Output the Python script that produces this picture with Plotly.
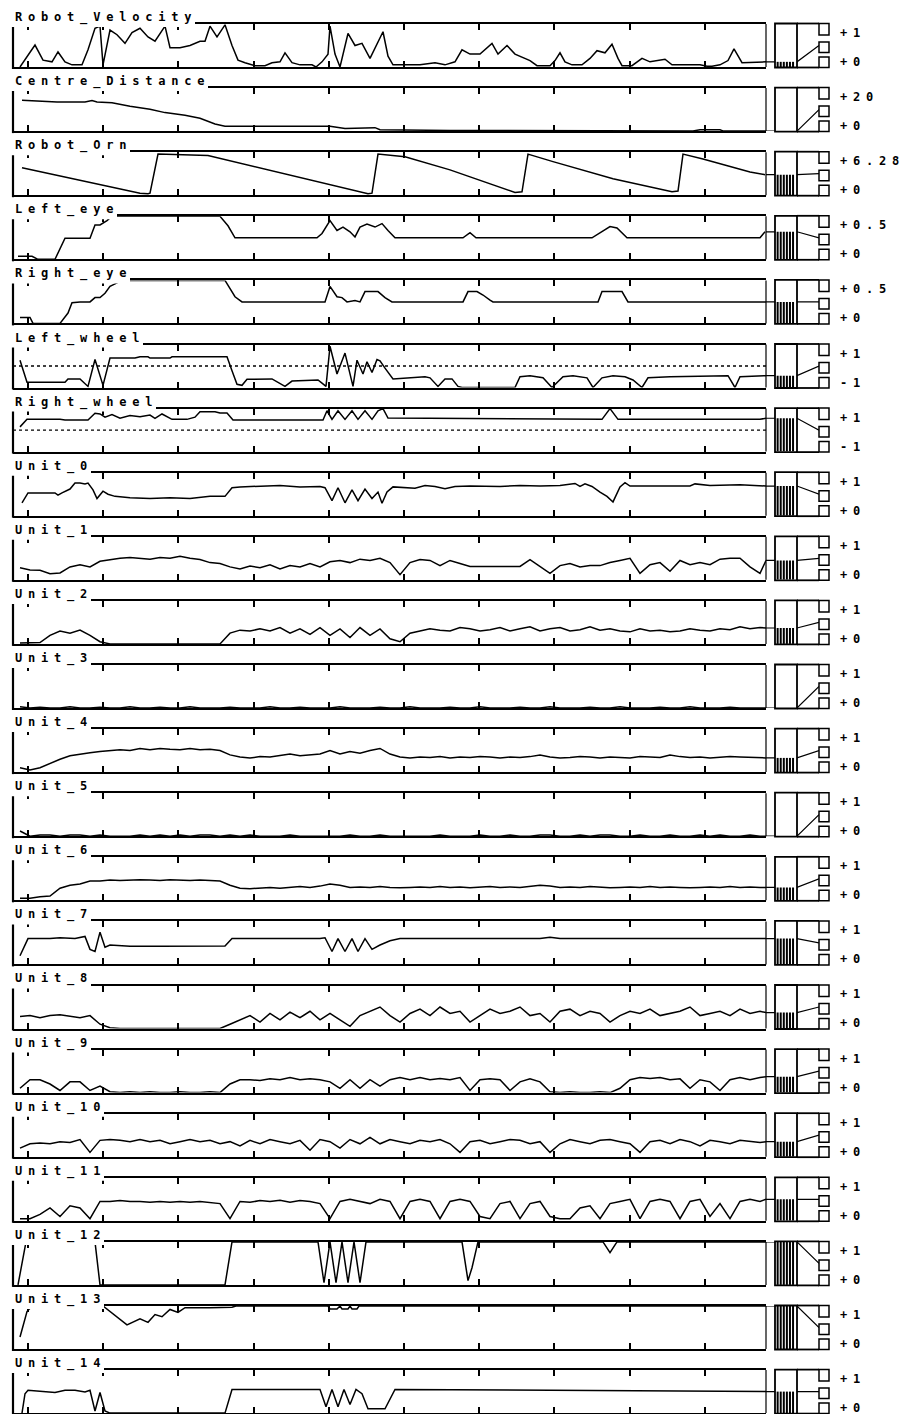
import plotly.graph_objects as go

W, H = 904, 1414

# ---------------- data (time steps t, values) ----------------
VEL_T = [7,22,30,39,45,52,59,69,75,82,87,90,97,104,112,119,127,135,142,149,152,157,167,177,187,192,197,204,212,219,
         225,232,242,252,259,267,272,279,287,299,303,309,315,317,322,327,335,342,349,357,370,375,380,407,422,432,442,449,457,467,
         474,479,485,494,502,517,524,537,542,547,552,559,569,577,584,592,599,605,609,619,629,637,652,659,687,694,699,707,715,721,729,753]
VEL_V = [0,.51,.16,.12,.35,.12,.05,.05,.4,.9,.95,.05,.86,.75,.55,.8,.9,.7,.6,.85,.95,.45,.45,.5,.6,.6,.95,.7,.98,.5,
         .16,.1,.03,.03,.1,.12,.33,.1,.05,.05,0,.12,.3,.95,.3,0,.78,.5,.55,.2,.82,.25,.05,.05,.1,.05,.12,.4,.3,.3,
         .45,.55,.3,.5,.3,.15,.03,.03,.15,.33,.12,.05,.05,.2,.38,.33,.53,.2,.03,.03,.2,.12,.18,.05,.05,.02,.02,.05,.15,.42,.1,.12]

DIST_T = [9,44,72,79,84,99,117,137,152,172,187,202,212,317,332,362,367,437,587,680,687,707,710,753]
DIST_V = [14.4,13.5,13.5,14.2,13.5,13.2,11.6,10.2,8.6,7.4,6.0,3.3,2.3,2.3,1.2,1.6,0.6,0.3,0.2,0.1,0.6,0.6,0.1,0.0]

ORN_T = [9,127,135,137,145,195,355,359,365,392,437,502,509,515,540,600,659,665,670,690,737,752]
ORN_V = [4.0,0.3,0.2,0.3,6.0,5.8,0.2,0.3,6.0,5.6,3.7,0.4,0.5,6.0,4.9,2.4,0.5,0.6,6.0,5.3,3.4,3.0]

LEYE_T = [5,19,25,42,52,77,82,87,94,99,207,215,222,304,309,317,324,330,337,342,347,354,362,369,375,382,450,457,463,579,597,604,614,747,752]
LEYE_V = [0.035,0.035,0,0,0.245,0.245,0.4,0.4,0.45,0.5,0.5,0.39,0.25,0.25,0.3,0.45,0.335,0.375,0.32,0.26,0.375,0.41,0.375,0.415,0.335,0.25,
          0.25,0.31,0.25,0.25,0.38,0.365,0.25,0.25,0.32]

REYE_T = [7,17,20,47,55,59,67,77,82,87,92,97,102,109,212,222,229,312,317,324,329,334,342,347,352,365,372,379,450,455,464,470,477,480,585,589,609,615,753]
REYE_V = [0.07,0.07,0,0,0.12,0.24,0.25,0.25,0.3,0.3,0.35,0.43,0.46,0.5,0.5,0.31,0.25,0.25,0.43,0.31,0.3,0.25,0.265,0.25,0.37,0.37,0.3,0.25,
          0.25,0.37,0.37,0.33,0.27,0.25,0.25,0.37,0.37,0.25,0.25]

LWH_T = [7,14,52,55,67,75,82,87,90,97,122,127,135,137,157,159,214,219,224,229,234,259,267,272,279,305,309,313,317,324,332,340,344,350,354,359,364,
         367,372,380,412,417,425,432,439,445,449,502,507,517,530,539,550,560,574,580,589,600,612,620,629,635,657,715,722,727,753]
LWH_V = [0.27,-0.76,-0.76,-0.6,-0.6,-0.95,0.3,-0.46,-0.9,0.37,0.37,0.43,0.43,0.37,0.37,0.43,0.43,-0.22,-0.85,-0.9,-0.62,-0.6,-0.8,-0.95,-0.7,
         -0.65,-0.8,-0.95,0.92,-0.37,0.6,-0.95,0.27,-0.37,0.2,-0.3,0.3,0.24,-0.1,-0.6,-0.5,-0.55,-0.95,-0.6,-0.6,-0.95,-1,-1,-0.5,-0.45,-0.55,-1,
         -0.5,-0.45,-0.55,-1,-0.55,-0.45,-0.5,-0.65,-1,-0.55,-0.5,-0.45,-1,-0.5,-0.45]

RWH_T = [7,14,47,52,75,82,87,92,99,107,117,127,137,142,149,159,174,182,187,202,207,214,220,310,314,319,325,332,339,345,352,359,365,370,375,
         589,597,605,747,753]
RWH_V = [0.15,0.5,0.5,0.47,0.47,0.78,0.75,0.6,0.72,0.55,0.68,0.62,0.7,0.55,0.75,0.5,0.5,0.6,0.85,0.85,0.8,0.8,0.47,0.47,0.9,0.5,0.9,0.5,0.9,
         0.5,0.9,0.5,0.9,1.0,0.56,0.5,1.0,0.5,0.5,0.55]

U0_T = [9,15,42,45,49,57,62,67,72,75,80,84,90,95,102,117,137,157,177,197,212,219,227,247,267,287,307,312,319,325,332,339,345,352,359,365,369,
        374,380,402,412,422,432,442,457,487,507,527,547,562,567,572,579,587,594,600,607,612,617,677,682,697,727,753]
U0_V = [.3,.53,.53,.48,.53,.62,.76,.76,.74,.76,.6,.4,.57,.5,.45,.42,.4,.42,.4,.45,.45,.65,.67,.68,.7,.67,.68,.65,.35,.65,.3,.6,.35,.62,.4,.55,
        .29,.55,.67,.64,.7,.68,.63,.68,.69,.68,.7,.69,.7,.75,.68,.74,.68,.55,.45,.32,.67,.77,.69,.69,.74,.7,.72,.69]

GRID_T = [7 + 10 * k for k in range(75)] + [753]

U1_V = [.28,.23,.22,.14,.16,.3,.35,.3,.43,.47, .5,.52,.5,.48,.52,.5,.55,.5,.47,.4, .38,.3,.25,.32,.28,.35,.25,.33,.3,.38,
        .3,.42,.45,.4,.48,.45,.5,.4,.12,.4, .47,.45,.33,.45,.38,.31,.31,.31,.31,.31, .31,.47,.3,.15,.33,.38,.3,.33,.33,.4,
        .45,.5,.15,.35,.4,.2,.45,.35,.4,.35, .48,.5,.5,.3,.15,.45]
U2_V = [.02,.03,.03,.2,.3,.25,.32,.2,.05,0, 0,0,0,0,0,0,0,0,0,0, 0,.25,.32,.3,.35,.3,.38,.25,.35,.22,
        .38,.2,.35,.15,.38,.2,.35,.12,.05,.25, .3,.35,.32,.3,.38,.35,.3,.33,.38,.3, .35,.4,.3,.35,.38,.3,.33,.4,.32,.35,
        .3,.28,.35,.3,.32,.28,.3,.35,.32,.3, .35,.33,.4,.35,.38,.37]
U3_V = [.03,0,.02,0,0,.03,0,0,.02,0, 0,.03,0,0,.02,0,0,.03,0,0, 0,.02,0,0,0,.03,0,0,.02,0,
        0,0,.03,0,0,0,.02,0,0,.03, 0,0,0,.02,0,0,.03,0,0,0, .02,0,0,.03,0,0,0,.02,0,0,
        .03,0,0,0,.02,0,0,.03,0,0, 0,.02,0,0,0,0]
U4_V = [.1,.05,.1,.2,.3,.38,.42,.45,.48,.5, .52,.5,.55,.52,.55,.53,.52,.55,.52,.53, .5,.4,.35,.33,.36,.35,.38,.42,.38,.4,
        .42,.5,.42,.48,.44,.5,.55,.42,.35,.33, .35,.34,.36,.33,.35,.34,.36,.35,.33,.35, .34,.36,.4,.35,.33,.34,.36,.35,.33,.35,
        .34,.33,.36,.35,.34,.4,.36,.34,.35,.33, .34,.36,.35,.34,.33,.33]
U5_V = [.12,0,.03,.03,0,.03,.03,0,.03,0, 0,0,.03,0,.03,0,.03,0,.03,.03, 0,.03,0,.03,0,0,0,.03,0,0,
        0,0,0,.03,0,0,.03,0,0,0, 0,0,.03,0,0,0,.03,0,0,.03, 0,0,.03,.03,0,0,.03,0,.03,.03,
        0,0,.03,0,0,.03,0,0,.03,0, .03,0,0,.03,0,0]
U6_V = [.05,.05,.08,.1,.28,.35,.38,.45,.45,.47, .46,.47,.48,.47,.46,.48,.47,.46,.47,.46, .45,.35,.28,.27,.28,.3,.28,.3,.32,.3,
        .33,.38,.35,.3,.31,.3,.32,.3,.29,.3, .31,.3,.32,.3,.31,.29,.3,.32,.3,.31, .3,.32,.35,.33,.3,.31,.3,.32,.3,.29,
        .3,.31,.3,.32,.3,.31,.3,.29,.3,.31, .3,.32,.3,.31,.3,.3]

U7_T = [7,15,37,47,62,72,77,82,87,92,97,117,147,177,212,219,307,312,319,325,332,339,345,352,359,367,377,387,527,537,547,753]
U7_V = [.2,.6,.6,.62,.6,.65,.35,.3,.75,.4,.45,.42,.42,.43,.43,.6,.6,.62,.3,.6,.3,.6,.3,.6,.35,.45,.55,.6,.6,.63,.6,.6]

U8_V = [.28,.3,.25,.3,.32,.28,.25,.3,.1,.02, 0,0,0,0,0,0,0,0,0,0, 0,.1,.2,.3,.15,.35,.2,.38,.25,.4,
        .2,.35,.2,.05,.3,.4,.5,.3,.15,.35, .45,.3,.5,.35,.4,.15,.3,.45,.35,.4, .5,.3,.35,.15,.4,.45,.3,.4,.35,.15,
        .3,.4,.35,.45,.3,.35,.4,.5,.3,.35, .4,.3,.45,.35,.4,.37]
U9_V = [.1,.3,.3,.2,.05,.25,.25,.05,.15,.02, 0,.02,0,.02,0,0,.02,0,0,.02, 0,.2,.3,.3,.28,.32,.3,.35,.3,.32,
        .3,.25,.1,.3,.1,.3,.15,.3,.35,.3, .35,.3,.33,.3,.35,.05,.3,.32,.3,.05, .25,.32,.25,.02,0,.02,0,0,.02,0,
        .1,.3,.35,.33,.35,.3,.32,.1,.3,.25, .05,.3,.35,.3,.35,.37]
U10_V = [.2,.3,.32,.3,.35,.33,.4,.1,.38,.4, .38,.35,.4,.35,.38,.3,.35,.4,.35,.38, .3,.35,.25,.38,.3,.4,.35,.3,.38,.15,
         .4,.35,.2,.4,.3,.45,.3,.4,.35,.3, .38,.35,.4,.3,.1,.35,.38,.3,.35,.4, .38,.3,.35,.1,.3,.4,.35,.3,.38,.4,
         .35,.3,.1,.35,.38,.3,.4,.35,.25,.38, .35,.3,.38,.35,.33,.35]
U11_V = [.05,.05,.15,.3,.1,.35,.3,.05,.45,.45, .47,.45,.45,.43,.45,.43,.45,.43,.45,.43, .4,.05,.45,.43,.47,.45,.48,.43,.47,.45,
         .4,.05,.45,.5,.45,.4,.5,.45,.05,.45, .5,.45,.05,.45,.5,.45,.1,.05,.4,.45, .05,.4,.45,.1,.05,.05,.3,.35,.05,.4,
         .45,.5,.05,.45,.5,.45,.05,.45,.5,.1, .4,.05,.45,.5,.45,.5]

U12_T = [5,13,82,87,212,219,305,311,317,323,329,335,341,347,353,449,455,459,465,590,597,604,753]
U12_V = [0,1,1,0,0,1,1,.05,1,.05,1,.05,1,.05,1,1,.1,.4,1,1,.75,1,1]

U13_T = [7,14,19,90,114,127,135,142,149,157,165,172,197,219,223,315,317,324,327,329,335,337,339,344,346,753]
U13_V = [.28,.87,1,1,.56,.7,.62,.8,.75,.92,.85,.96,.96,.97,1,1,.93,.93,1,.93,.93,1,.93,.93,1,1]

U14_T = [9,12,15,32,42,52,62,72,77,82,87,92,97,212,219,307,313,319,325,331,337,343,349,355,372,382,753]
U14_V = [0,.45,.53,.5,.48,.53,.53,.49,.53,.05,.48,.05,0,0,.55,.55,.15,.55,.15,.55,.2,.55,.45,.1,.1,.55,.5]

TICK_T = [15, 90.2, 165.4, 240.6, 315.8, 391, 466.2, 541.4, 616.6, 691.8]

# name, t, v, low, high, top label, bottom label, zero dashed line width
PANELS = [
    ("Robot_Velocity", VEL_T, VEL_V, 0, 1, "+1", "+0", None),
    ("Centre_Distance", DIST_T, DIST_V, 0, 20, "+20", "+0", None),
    ("Robot_Orn", ORN_T, ORN_V, 0, 6.28, "+6.28", "+0", None),
    ("Left_eye", LEYE_T, LEYE_V, 0, 0.5, "+0.5", "+0", None),
    ("Right_eye", REYE_T, REYE_V, 0, 0.5, "+0.5", "+0", None),
    ("Left_wheel", LWH_T, LWH_V, -1, 1, "+1", "-1", 1.7),
    ("Right_wheel", RWH_T, RWH_V, -1, 1, "+1", "-1", 1.1),
    ("Unit_0", U0_T, U0_V, 0, 1, "+1", "+0", None),
    ("Unit_1", GRID_T, U1_V, 0, 1, "+1", "+0", None),
    ("Unit_2", GRID_T, U2_V, 0, 1, "+1", "+0", None),
    ("Unit_3", GRID_T, U3_V, 0, 1, "+1", "+0", None),
    ("Unit_4", GRID_T, U4_V, 0, 1, "+1", "+0", None),
    ("Unit_5", GRID_T, U5_V, 0, 1, "+1", "+0", None),
    ("Unit_6", GRID_T, U6_V, 0, 1, "+1", "+0", None),
    ("Unit_7", U7_T, U7_V, 0, 1, "+1", "+0", None),
    ("Unit_8", GRID_T, U8_V, 0, 1, "+1", "+0", None),
    ("Unit_9", GRID_T, U9_V, 0, 1, "+1", "+0", None),
    ("Unit_10", GRID_T, U10_V, 0, 1, "+1", "+0", None),
    ("Unit_11", GRID_T, U11_V, 0, 1, "+1", "+0", None),
    ("Unit_12", U12_T, U12_V, 0, 1, "+1", "+0", None),
    ("Unit_13", U13_T, U13_V, 0, 1, "+1", "+0", None),
    ("Unit_14", U14_T, U14_V, 0, 1, "+1", "+0", None),
]

# ---------------- layout geometry (pixels) ----------------
TOP0, PITCH, BOXH = 24.0, 64.1, 43.0
MX0, MX1 = 13, 766          # main box
HX0, HX1 = 775, 797         # histogram box
SQX0, SQX1 = 819, 829       # squares
LABX = 838
FONT = "DejaVu Sans Mono"
FSIZE = 12
ADV = 13.0                   # character advance of the bitmap-like font
LS = 5.8                     # letter spacing to reach that advance
HATCH_X = [-0.38, -0.24, -0.1, 0.04, 0.18, 0.32]   # hatch stroke positions inside the meter box


def X(px):
    return px / W


def Y(py):
    return 1 - py / H


def spaced(s):
    return '<span style="letter-spacing:%.1fpx">%s</span>' % (LS, s)


fig = go.Figure()
shapes = []
annots = []
layout_axes = {}
N = len(PANELS)

for i, (name, tt, vv, lo, hi, toplab, botlab, dash_w) in enumerate(PANELS):
    T = TOP0 + PITCH * i
    B = T + BOXH
    ydom = [Y(B), Y(T)]
    a = i + 1
    m = N + i + 1
    h = 2 * N + i + 1
    xa, ya = ("x" if a == 1 else "x%d" % a), ("y" if a == 1 else "y%d" % a)
    xm, ym = "x%d" % m, "y%d" % m
    xh, yh = "x%d" % h, "y%d" % h

    # main time axis with ticks on both edges
    layout_axes["xaxis" if a == 1 else "xaxis%d" % a] = dict(
        domain=[X(MX0), X(MX1)], range=[0, 753], anchor=ya,
        showline=True, linewidth=2, linecolor="black", mirror="ticks",
        ticks="inside", ticklen=6, tickwidth=2, tickcolor="black",
        tickmode="array", tickvals=TICK_T, showticklabels=False,
        showgrid=False, zeroline=False, fixedrange=True)
    layout_axes["yaxis" if a == 1 else "yaxis%d" % a] = dict(
        domain=ydom, range=[lo, hi], anchor=xa, visible=False,
        showgrid=False, zeroline=False, fixedrange=True)
    # meter connector axis
    layout_axes["xaxis%d" % m] = dict(domain=[X(MX1), X(SQX0)], range=[0, SQX0 - MX1],
                                      anchor=ym, visible=False, fixedrange=True)
    layout_axes["yaxis%d" % m] = dict(domain=ydom, range=[lo, hi], anchor=xm,
                                      visible=False, fixedrange=True)
    # histogram axis
    layout_axes["xaxis%d" % h] = dict(domain=[X(HX0), X(HX1)], range=[-0.5, 0.5],
                                      anchor=yh, visible=False, fixedrange=True)
    layout_axes["yaxis%d" % h] = dict(domain=ydom, range=[lo, hi], anchor=xh,
                                      visible=False, fixedrange=True)

    last = vv[-1]
    mid = (lo + hi) / 2.0

    # hatched level bar (vertical strokes from the floor up to the current value)
    hx, hy = [], []
    if last > lo:
        for xx in HATCH_X:
            hx += [xx, xx, None]
            hy += [lo, last, None]
    fig.add_trace(go.Scatter(x=hx, y=hy, xaxis=xh, yaxis=yh, mode="lines",
                             line=dict(color="black", width=2),
                             hoverinfo="skip", showlegend=False))
    fig.add_trace(go.Scatter(x=tt, y=vv, xaxis=xa, yaxis=ya, mode="lines",
                             line=dict(color="black", width=1.5),
                             hoverinfo="skip", showlegend=False))
    fig.add_trace(go.Scatter(x=[0, HX1 - MX1, SQX0 - MX1], y=[last, last, mid], xaxis=xm, yaxis=ym,
                             mode="lines", line=dict(color="black", width=1.2),
                             hoverinfo="skip", showlegend=False, cliponaxis=False))

    if dash_w:
        shapes.append(dict(type="line", xref=xa, yref=ya, x0=0, x1=753, y0=0, y1=0,
                           line=dict(color="black", width=dash_w, dash="3px,3px")))

    # box sides
    shapes.append(dict(type="line", xref="paper", yref="paper", x0=X(MX0), x1=X(MX0),
                       y0=Y(T), y1=Y(B + 2), line=dict(color="black", width=2.2)))
    shapes.append(dict(type="line", xref="paper", yref="paper", x0=X(MX1), x1=X(MX1),
                       y0=Y(T), y1=Y(B), line=dict(color="black", width=1.2)))
    # histogram box
    shapes.append(dict(type="rect", xref="paper", yref="paper", x0=X(HX0), x1=X(HX1),
                       y0=Y(B + 0.5), y1=Y(T - 0.5), line=dict(color="black", width=1.8)))
    # connector box top & bottom
    for yy in (T - 0.5, B + 0.5):
        shapes.append(dict(type="line", xref="paper", yref="paper", x0=X(HX1), x1=X(SQX0),
                           y0=Y(yy), y1=Y(yy), line=dict(color="black", width=1.8)))
    # three little squares
    for (s0, s1) in ((T - 0.5, T + 11), (T + 18, T + 28.5), (T + 33, B + 0.5)):
        shapes.append(dict(type="rect", xref="paper", yref="paper", x0=X(SQX0), x1=X(SQX1),
                           y0=Y(s1), y1=Y(s0), fillcolor="white", line=dict(color="black", width=1.5)))
    # label background (hides the top edge behind the name)
    shapes.append(dict(type="rect", xref="paper", yref="paper", x0=X(10),
                       x1=X(MX0 + ADV * len(name)), y0=Y(T + 3), y1=Y(T - 15),
                       fillcolor="white", line=dict(width=0)))

    fnt = dict(family=FONT, size=FSIZE, color="black", weight="bold")
    annots.append(dict(text=spaced(name), x=X(MX0), y=Y(T - 6.5), xref="paper", yref="paper",
                       xanchor="left", yanchor="middle", showarrow=False, font=fnt))
    annots.append(dict(text=spaced(toplab), x=X(LABX), y=Y(T + 9), xref="paper", yref="paper",
                       xanchor="left", yanchor="middle", showarrow=False, font=fnt))
    annots.append(dict(text=spaced(botlab), x=X(LABX), y=Y(T + 38), xref="paper", yref="paper",
                       xanchor="left", yanchor="middle", showarrow=False, font=fnt))

fig.update_layout(width=W, height=H, autosize=False,
                  margin=dict(l=0, r=0, t=0, b=0, pad=0),
                  paper_bgcolor="white", plot_bgcolor="white",
                  showlegend=False, shapes=shapes, annotations=annots,
                  **layout_axes)

fig.write_html("out.html", config={"displayModeBar": False, "staticPlot": True},
               post_script="document.body.style.margin='0';")
